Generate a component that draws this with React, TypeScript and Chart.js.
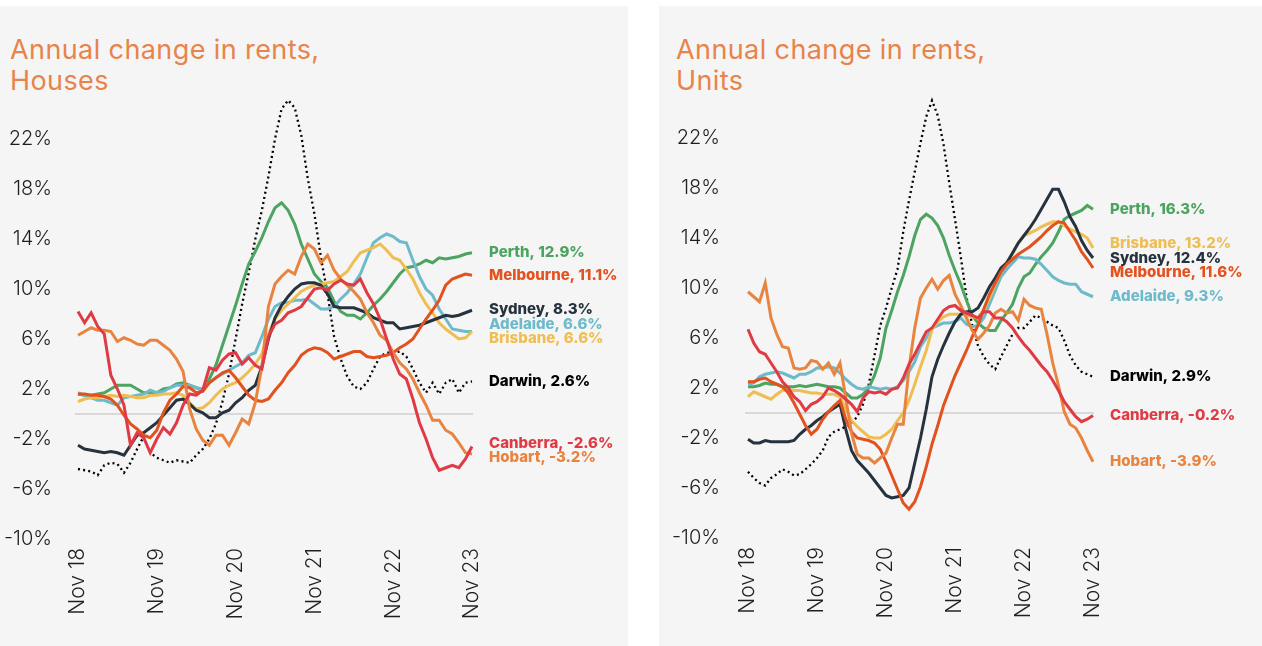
import React, { useEffect, useRef } from 'react';
import { Chart, registerables } from 'chart.js';

Chart.register(...registerables);

// ---------- categories ----------
const monthNames = ['Jan', 'Feb', 'Mar', 'Apr', 'May', 'Jun', 'Jul', 'Aug', 'Sep', 'Oct', 'Nov', 'Dec'];
const months: string[] = [];
for (let k = 0; k < 61; k++) {
  const m = (10 + k) % 12;
  const yr = 18 + Math.floor((10 + k) / 12);
  months.push(`${monthNames[m]} ${yr}`);
}
const tickEvery = 12; // show "Nov yy" labels only
const yTicks = [-10, -6, -2, 2, 6, 10, 14, 18, 22];

// ---------- Houses ----------
const housesPerth = [
  1.6, 1.5, 1.5, 1.6, 1.7, 2.0, 2.3, 2.3, 2.3, 2.0,
  1.7, 1.7, 1.7, 2.0, 2.1, 2.4, 2.5, 2.3, 2.1, 1.9,
  2.8, 3.9, 5.5, 7.1, 8.7, 10.4, 12.0, 13.0, 14.1, 15.4,
  16.5, 16.9, 16.3, 15.2, 13.6, 12.4, 11.2, 10.6, 10.1, 9.0,
  8.2, 7.9, 7.9, 7.6, 8.1, 8.7, 9.2, 9.8, 10.5, 11.2,
  11.7, 11.8, 12.0, 12.3, 12.1, 12.5, 12.4, 12.5, 12.6, 12.8, 12.9,
];
const housesMelbourne = [
  1.6, 1.6, 1.5, 1.5, 1.4, 1.2, 0.7, -0.1, -0.8, -1.2,
  -1.7, -1.9, -1.3, 0.1, 1.1, 1.6, 2.2, 2.1, 1.7, 1.8,
  2.5, 2.9, 3.3, 3.5, 2.9, 2.2, 1.5, 1.1, 1.0, 1.2,
  1.9, 2.5, 3.3, 3.9, 4.7, 5.1, 5.3, 5.2, 4.9, 4.4,
  4.6, 4.8, 5.0, 5.0, 4.6, 4.5, 4.6, 4.7, 4.9, 5.3,
  5.6, 6.0, 6.8, 7.6, 8.3, 9.1, 10.3, 10.8, 11.0, 11.2, 11.1,
];
const housesSydney = [
  -2.5, -2.8, -2.9, -3.0, -3.1, -3.0, -3.1, -3.3, -2.5, -1.7,
  -1.5, -1.1, -0.7, -0.1, 0.5, 1.1, 1.2, 0.8, 0.3, 0.1,
  -0.3, -0.3, 0.1, 0.3, 0.9, 1.3, 1.9, 2.3, 3.8, 6.0,
  7.7, 8.7, 9.4, 10.0, 10.4, 10.5, 10.5, 10.3, 9.6, 8.6,
  8.5, 8.5, 8.5, 8.3, 8.1, 7.7, 7.5, 7.3, 7.3, 6.8,
  6.9, 7.0, 7.1, 7.3, 7.5, 7.7, 7.9, 7.8, 7.9, 8.1, 8.3,
];
const housesAdelaide = [
  1.7, 1.5, 1.3, 1.1, 1.1, 0.9, 0.7, 1.3, 1.4, 1.5,
  1.6, 1.9, 1.7, 1.8, 2.1, 2.3, 2.3, 2.3, 2.1, 2.0,
  2.5, 2.9, 3.2, 3.5, 3.8, 4.1, 4.7, 4.9, 6.2, 7.6,
  8.6, 8.9, 8.9, 9.1, 9.1, 9.2, 8.8, 8.4, 8.4, 8.6,
  9.2, 9.7, 10.4, 11.2, 12.5, 13.7, 14.1, 14.4, 14.2, 13.8,
  13.7, 12.3, 11.0, 10.0, 9.5, 8.4, 7.6, 6.8, 6.7, 6.6, 6.6,
];
const housesBrisbane = [
  1.0, 1.2, 1.3, 1.3, 1.4, 1.5, 1.4, 1.5, 1.4, 1.3,
  1.3, 1.5, 1.5, 1.6, 1.6, 1.7, 1.5, 0.9, 0.4, 0.5,
  0.9, 1.5, 2.0, 2.3, 2.5, 2.9, 3.4, 4.0, 4.8, 6.4,
  7.6, 8.3, 8.8, 9.3, 9.8, 10.1, 10.3, 10.4, 10.5, 10.6,
  11.0, 11.4, 12.2, 12.9, 13.1, 13.3, 13.6, 13.1, 12.5, 12.3,
  11.6, 10.8, 9.7, 8.8, 8.1, 7.3, 6.8, 6.4, 6.0, 6.1, 6.6,
];
const housesDarwin = [
  -4.4, -4.5, -4.6, -4.9, -4.1, -3.9, -4.0, -4.7, -3.9, -2.8,
  -1.8, -3.1, -3.5, -3.7, -3.9, -3.7, -3.8, -3.9, -3.3, -2.8,
  -2.0, -0.8, 1.0, 3.2, 6.0, 8.8, 11.3, 14.0, 16.3, 19.0,
  22.0, 24.4, 25.1, 24.5, 22.3, 18.8, 16.0, 12.5, 9.6, 6.2,
  4.4, 3.0, 2.2, 2.0, 2.5, 3.6, 4.6, 4.9, 4.9, 5.0,
  4.6, 3.6, 2.5, 1.7, 2.5, 1.6, 2.5, 2.8, 1.7, 2.5, 2.6,
];
const housesCanberra = [
  8.2, 7.3, 8.1, 7.0, 6.4, 3.1, 2.0, 0.7, -2.5, -1.5,
  -1.9, -3.1, -2.0, -1.1, -1.6, -0.7, 0.7, 1.6, 1.5, 1.9,
  3.7, 3.5, 4.3, 4.8, 4.9, 4.0, 4.5, 3.9, 3.6, 6.2,
  7.2, 7.5, 8.1, 8.3, 8.6, 9.3, 10.0, 10.1, 9.9, 10.4,
  10.7, 10.4, 10.3, 10.8, 9.7, 8.8, 7.6, 6.0, 4.4, 3.2,
  2.8, 1.2, -0.7, -2.0, -3.5, -4.5, -4.3, -4.1, -4.3, -3.6, -2.6,
];
const housesHobart = [
  6.3, 6.6, 6.9, 6.7, 6.7, 6.6, 5.8, 6.1, 5.9, 5.6,
  5.5, 5.9, 5.9, 5.5, 5.1, 4.4, 3.4, 0.4, -1.2, -2.1,
  -2.5, -1.7, -1.7, -2.5, -1.5, -0.4, -0.8, 0.9, 3.8, 8.6,
  10.4, 11.0, 11.5, 11.2, 12.6, 13.6, 13.2, 12.1, 12.7, 11.5,
  10.8, 10.3, 9.8, 9.2, 8.1, 7.3, 6.3, 5.9, 4.9, 4.1,
  3.6, 2.8, 1.7, 0.7, -0.5, -0.5, -1.3, -1.6, -2.3, -3.1, -3.2,
];

// ---------- Units ----------
const unitsPerth = [
  2.1, 2.1, 2.2, 2.4, 2.3, 2.3, 2.1, 2.1, 2.1, 2.2,
  2.1, 2.2, 2.3, 2.2, 2.1, 2.1, 2.0, 1.6, 1.2, 1.2,
  1.5, 2.0, 3.0, 4.4, 6.8, 8.2, 9.7, 11.0, 12.5, 14.2,
  15.5, 15.9, 15.6, 15.0, 14.0, 12.6, 11.4, 10.3, 9.0, 7.8,
  7.2, 6.8, 6.6, 6.6, 7.4, 8.0, 8.7, 10.0, 10.9, 11.2,
  11.9, 12.5, 13.0, 13.6, 14.5, 15.5, 15.8, 16.0, 16.2, 16.6, 16.3,
];
const unitsMelbourne = [
  2.5, 2.5, 2.7, 2.8, 2.5, 2.3, 2.1, 1.6, 0.8, -0.1,
  -1.0, -1.7, -1.3, -0.5, 0.1, 0.6, 1.0, -0.5, -1.5, -2.0,
  -2.1, -2.2, -2.4, -2.9, -3.9, -5.0, -6.1, -7.2, -7.7, -7.1,
  -5.9, -4.3, -2.5, -1.0, 0.6, 1.8, 3.0, 4.0, 5.0, 6.1,
  7.0, 8.3, 9.5, 10.4, 11.3, 11.9, 12.3, 12.7, 13.0, 13.3,
  13.7, 14.1, 14.6, 15.0, 15.3, 15.2, 14.5, 13.8, 12.9, 12.3, 11.6,
];
const unitsSydney = [
  -2.1, -2.4, -2.4, -2.2, -2.3, -2.3, -2.3, -2.3, -2.2, -1.7,
  -1.3, -1.0, -0.6, -0.3, 0.1, 0.4, 0.7, -1.3, -3.0, -3.8,
  -4.3, -4.8, -5.4, -6.0, -6.6, -6.8, -6.7, -6.6, -6.0, -4.0,
  -2.0, 0.3, 2.9, 4.3, 5.4, 6.4, 7.3, 7.9, 8.1, 8.1,
  8.4, 9.2, 10.1, 10.8, 11.6, 12.0, 12.8, 13.6, 14.2, 14.8,
  15.5, 16.3, 17.1, 17.9, 17.9, 16.9, 15.7, 14.9, 13.8, 13.0, 12.4,
];
const unitsAdelaide = [
  2.3, 2.4, 2.9, 3.1, 3.2, 3.3, 3.2, 3.0, 2.8, 3.1,
  3.1, 3.3, 3.6, 3.6, 3.7, 3.6, 3.2, 2.7, 2.3, 2.0,
  1.9, 2.1, 2.0, 1.9, 2.0, 1.9, 2.1, 2.6, 3.3, 4.1,
  5.3, 6.0, 6.8, 7.0, 7.2, 7.2, 7.3, 7.6, 7.1, 6.9,
  7.0, 7.6, 8.7, 9.8, 10.9, 11.5, 12.0, 12.5, 12.4, 12.4,
  12.3, 11.9, 11.4, 10.9, 10.6, 10.4, 10.3, 10.3, 9.7, 9.5, 9.3,
];
const unitsBrisbane = [
  1.3, 1.7, 1.5, 1.3, 1.1, 1.5, 1.8, 1.9, 1.8, 1.8,
  1.7, 1.6, 1.6, 1.5, 1.5, 1.5, 1.3, 0.3, -0.6, -1.1,
  -1.5, -1.9, -2.0, -2.0, -1.7, -1.3, -0.6, 0.0, 1.0, 2.3,
  3.7, 5.0, 6.7, 7.3, 7.7, 7.9, 7.9, 7.9, 7.8, 7.7,
  7.6, 8.3, 9.2, 10.3, 11.3, 12.1, 12.7, 13.6, 14.2, 14.4,
  14.6, 14.9, 15.1, 15.3, 15.3, 15.0, 14.7, 14.5, 14.3, 14.0, 13.2,
];
const unitsDarwin = [
  -4.7, -5.2, -5.6, -5.8, -5.2, -4.9, -4.5, -4.7, -5.0, -4.9,
  -4.5, -4.1, -3.6, -3.0, -1.9, -1.5, -1.3, -1.1, -0.8, -0.3,
  0.7, 2.3, 4.6, 7.0, 8.4, 10.0, 11.5, 14.5, 17.0, 19.3,
  21.6, 23.7, 25.0, 23.8, 21.5, 18.4, 15.5, 12.5, 9.3, 7.0,
  5.4, 4.5, 3.9, 3.5, 4.5, 5.4, 6.3, 6.8, 6.8, 7.3,
  7.8, 7.6, 7.3, 7.0, 6.8, 5.8, 4.6, 3.8, 3.3, 3.1, 2.9,
];
const unitsCanberra = [
  6.7, 5.6, 4.9, 4.7, 4.0, 3.3, 2.5, 2.0, 1.3, 0.9,
  0.2, 0.7, 0.9, 1.3, 2.0, 1.8, 1.5, 1.1, 0.7, 0.1,
  1.2, 1.7, 1.6, 1.7, 1.5, 1.9, 2.0, 2.8, 3.9, 4.7,
  5.6, 6.5, 6.8, 7.5, 8.2, 8.5, 8.6, 8.2, 8.0, 7.8,
  7.6, 8.1, 8.1, 7.6, 7.6, 7.3, 6.8, 6.1, 5.5, 5.0,
  4.4, 3.8, 3.3, 2.6, 1.8, 0.9, 0.3, -0.3, -0.7, -0.5, -0.2,
];
const unitsHobart = [
  9.7, 9.3, 8.9, 10.4, 7.6, 6.3, 5.3, 5.2, 3.6, 3.5,
  3.6, 4.2, 4.1, 3.5, 4.0, 3.1, 4.0, 1.2, -1.6, -3.3,
  -3.6, -3.6, -4.0, -3.6, -3.2, -2.0, -0.9, -0.9, 3.6, 6.8,
  9.2, 10.0, 10.7, 9.9, 10.6, 11.0, 9.5, 8.6, 7.6, 6.6,
  5.9, 6.4, 7.0, 8.0, 8.3, 8.0, 8.1, 7.4, 9.1, 8.6,
  8.4, 8.3, 6.3, 4.0, 2.2, 0.1, -0.9, -1.2, -2.0, -3.0, -3.9,
];

// ---------- series meta ----------
const cities = ['Perth', 'Melbourne', 'Sydney', 'Adelaide', 'Brisbane', 'Darwin', 'Canberra', 'Hobart'];
const cityColors: Record<string, string> = {
  Perth: '#4DA460',
  Melbourne: '#E2521F',
  Sydney: '#27323F',
  Adelaide: '#6DBACB',
  Brisbane: '#EFBE52',
  Darwin: '#000000',
  Canberra: '#E03B45',
  Hobart: '#E8843F',
};
const housesSeries = [housesPerth, housesMelbourne, housesSydney, housesAdelaide, housesBrisbane, housesDarwin, housesCanberra, housesHobart];
const unitsSeries = [unitsPerth, unitsMelbourne, unitsSydney, unitsAdelaide, unitsBrisbane, unitsDarwin, unitsCanberra, unitsHobart];

const FONT = 'Inter, "Noto Sans", sans-serif';
const TITLE_COLOR = '#E8834A';

const zeroLinePlugin = {
  id: 'zeroLine',
  beforeDatasetsDraw(chart: any) {
    const { ctx, chartArea, scales } = chart;
    const y = scales.y.getPixelForValue(0);
    ctx.save();
    ctx.strokeStyle = '#d9d9d9';
    ctx.lineWidth = 2;
    ctx.beginPath();
    ctx.moveTo(chartArea.left - 3, y);
    ctx.lineTo(chartArea.right + 1, y);
    ctx.stroke();
    ctx.restore();
  },
};

const endLabelPlugin = {
  id: 'endLabels',
  afterDatasetsDraw(chart: any) {
    const { ctx, chartArea, scales } = chart;
    const gap = 14.5;
    const items = chart.data.datasets.map((d: any) => {
      const last = d.data[d.data.length - 1];
      return {
        y: scales.y.getPixelForValue(last),
        text: `${d.label}, ${last.toFixed(1)}%`,
        color: d.labelColor,
      };
    });
    items.sort((a: any, b: any) => a.y - b.y);
    for (let iter = 0; iter < 100; iter++) {
      let moved = false;
      for (let i = 1; i < items.length; i++) {
        const d = items[i].y - items[i - 1].y;
        if (d < gap) {
          const push = (gap - d) / 2;
          items[i - 1].y -= push;
          items[i].y += push;
          moved = true;
        }
      }
      if (!moved) break;
    }
    ctx.save();
    ctx.font = `800 15px ${FONT}`;
    ctx.textBaseline = 'middle';
    ctx.textAlign = 'left';
    items.forEach((it: any) => {
      ctx.fillStyle = it.color;
      ctx.fillText(it.text, chartArea.right + 17, it.y);
    });
    ctx.restore();
  },
};

type PanelProps = {
  left: number;
  width: number;
  title: string[];
  titleLeft: number;
  series: number[][];
  padTop: number;
  padRight: number;
  yWidth: number;
  yPad: number;
  xHeight: number;
};

function Panel(p: PanelProps) {
  const ref = useRef<HTMLCanvasElement | null>(null);
  useEffect(() => {
    if (!ref.current) return;
    const order = ['Darwin', 'Perth', 'Adelaide', 'Brisbane', 'Sydney', 'Melbourne', 'Hobart', 'Canberra'];
    const datasets = cities.map((c, i) => ({
      label: c,
      data: p.series[i],
      borderColor: cityColors[c],
      labelColor: cityColors[c],
      borderWidth: c === 'Darwin' ? 2.3 : 3,
      borderDash: c === 'Darwin' ? [2, 3.2] : [],
      pointRadius: 0,
      tension: 0,
      fill: false,
      order: order.length - order.indexOf(c),
    }));
    const chart = new Chart(ref.current, {
      type: 'line',
      data: { labels: months, datasets: datasets as any },
      options: {
        animation: false,
        responsive: true,
        maintainAspectRatio: false,
        layout: { padding: { top: p.padTop, right: p.padRight, left: 0, bottom: 0 } },
        plugins: { legend: { display: false }, tooltip: { enabled: false }, title: { display: false } },
        scales: {
          x: {
            type: 'category',
            grid: { display: false, drawTicks: false },
            border: { display: false },
            ticks: {
              autoSkip: false,
              maxRotation: 90,
              minRotation: 90,
              padding: 9,
              color: '#1f1f1f',
              font: { family: FONT, size: 21, weight: 300 as any },
              callback: (_v: any, i: number) => (i % tickEvery === 0 ? months[i] : ''),
            },
            afterFit: (s: any) => {
              s.height = p.xHeight;
            },
          },
          y: {
            min: -10,
            max: 26,
            grid: { display: false, drawTicks: false },
            border: { display: false },
            ticks: {
              stepSize: 4,
              padding: p.yPad,
              color: '#1f1f1f',
              font: { family: FONT, size: 20, weight: 300 as any },
              callback: (v: any) => `${v}%`,
            },
            afterBuildTicks: (s: any) => {
              s.ticks = yTicks.map((v) => ({ value: v }));
            },
            afterFit: (s: any) => {
              s.width = p.yWidth;
            },
          },
        },
      },
      plugins: [zeroLinePlugin, endLabelPlugin],
    });
    return () => chart.destroy();
  }, []);

  return (
    <div
      style={{
        position: 'absolute',
        left: p.left,
        top: 6,
        width: p.width,
        height: 640,
        background: '#f5f5f5',
      }}
    >
      <div
        style={{
          position: 'absolute',
          left: p.titleLeft,
          top: 28,
          fontFamily: FONT,
          fontSize: 27,
          letterSpacing: '0.4px',
          lineHeight: '31px',
          color: TITLE_COLOR,
          whiteSpace: 'nowrap',
        }}
      >
        {p.title.map((t, i) => (
          <div key={i}>{t}</div>
        ))}
      </div>
      <div style={{ position: 'absolute', left: 0, top: 0, width: p.width, height: 640 }}>
        <canvas ref={ref} />
      </div>
    </div>
  );
}

export default function App() {
  return (
    <div style={{ position: 'fixed', left: 0, top: 0, width: 1262, height: 646, background: '#ffffff', overflow: 'hidden' }}>
      <Panel
        left={0}
        width={628}
        title={['Annual change in rents,', 'Houses']}
        titleLeft={10}
        series={housesSeries}
        padTop={83}
        padRight={156}
        yWidth={78}
        yPad={26}
        xHeight={107}
      />
      <Panel
        left={659}
        width={603}
        title={['Annual change in rents,', 'Units']}
        titleLeft={17}
        series={unitsSeries}
        padTop={82}
        padRight={169}
        yWidth={89}
        yPad={28}
        xHeight={108}
      />
    </div>
  );
}
